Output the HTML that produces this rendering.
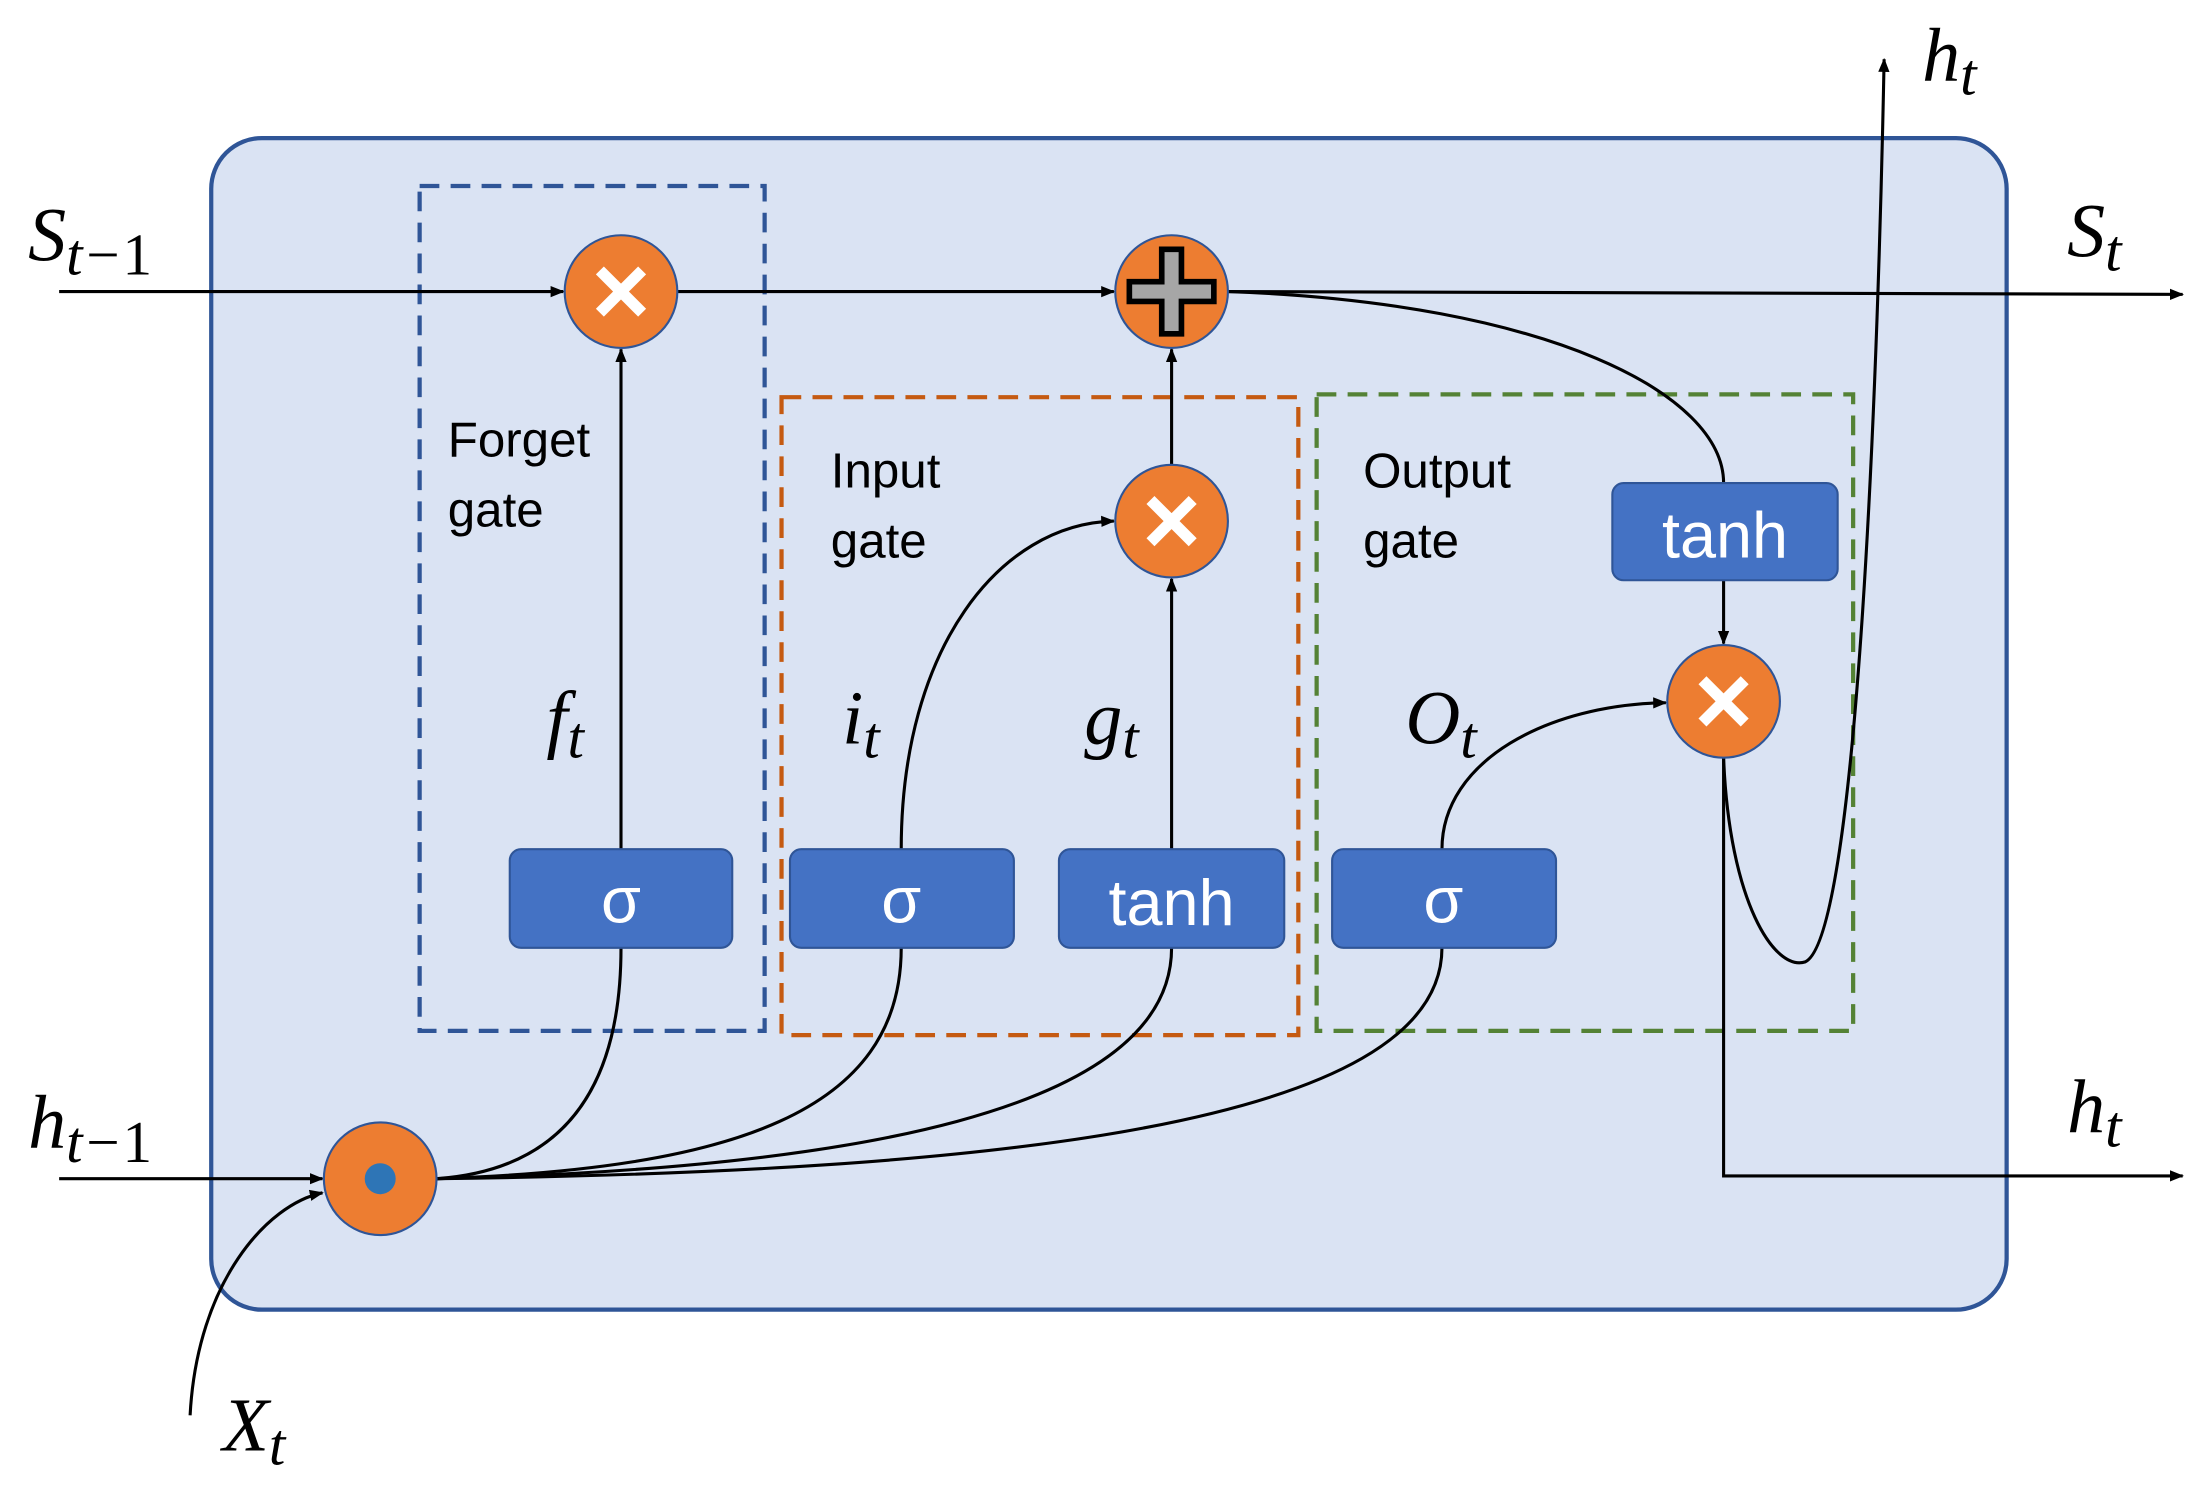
<!DOCTYPE html>
<html><head><meta charset="utf-8"><style>
html,body{margin:0;padding:0;background:#fff;}
svg{display:block}
.m{font-family:"Liberation Serif",serif;font-style:italic;}
.s{font-family:"Liberation Sans","DejaVu Sans",sans-serif;}
</style></head><body>
<svg width="2208" height="1490" viewBox="0 0 1568 1058" xmlns="http://www.w3.org/2000/svg">
<defs>
<marker id="a" markerWidth="10" markerHeight="10" refX="9" refY="5" orient="auto" markerUnits="userSpaceOnUse">
<path d="M0,1 L10,5 L0,9 z" fill="#000"/></marker>
</defs>
<rect x="150" y="98" width="1275" height="832" rx="36" fill="#dae3f3" stroke="#2f5597" stroke-width="3"/>
<rect x="298" y="132" width="245" height="600" fill="none" stroke="#2f5597" stroke-width="3" stroke-dasharray="14,8"/>
<rect x="555" y="282" width="367" height="453" fill="none" stroke="#c55a11" stroke-width="3" stroke-dasharray="14,8"/>
<rect x="935" y="280" width="381" height="452" fill="none" stroke="#548235" stroke-width="3" stroke-dasharray="14,8"/>

<g fill="none" stroke="#000" stroke-width="2.2">
<line x1="42" y1="207" x2="400" y2="207" marker-end="url(#a)"/>
<line x1="481" y1="207" x2="791" y2="207" marker-end="url(#a)"/>
<line x1="872" y1="207" x2="1550" y2="209" marker-end="url(#a)"/>
<path d="M872,207 C1100,215 1224,280 1224,343"/>
<line x1="1224" y1="412" x2="1224" y2="457" marker-end="url(#a)"/>
<line x1="42" y1="837" x2="229" y2="837" marker-end="url(#a)"/>
<path d="M135,1005 C140,910 190,855 229,847" marker-end="url(#a)"/>
<path d="M310,837 C410,830 441,760 441,673"/>
<path d="M310,837 C520,830 640,790 640,673"/>
<path d="M310,837 C600,830 832,790 832,673"/>
<path d="M310,837 C700,832 1024,800 1024,673"/>
<line x1="441" y1="603" x2="441" y2="248" marker-end="url(#a)"/>
<path d="M640,603 C640,460 710,372 791,370" marker-end="url(#a)"/>
<line x1="832" y1="603" x2="832" y2="411" marker-end="url(#a)"/>
<line x1="832" y1="330" x2="832" y2="248" marker-end="url(#a)"/>
<path d="M1024,603 C1024,540 1100,500 1183,499" marker-end="url(#a)"/>
<path d="M1224,538 L1224,835 L1550,835" marker-end="url(#a)"/>
<path d="M1224,538 C1228,640 1260,690 1282,683 C1320,665 1334,250 1338,42" marker-end="url(#a)"/>
</g>

<g fill="#ed7d31" stroke="#2f5597" stroke-width="1.5">
<circle cx="441" cy="207" r="40"/>
<circle cx="832" cy="207" r="40"/>
<circle cx="832" cy="370" r="40"/>
<circle cx="1224" cy="498" r="40"/>
<circle cx="270" cy="837" r="40"/>
</g>
<circle cx="270" cy="837" r="11" fill="#2e75b6"/>
<g stroke="#fff" stroke-width="8" stroke-linecap="butt">
<path d="M426,192 L456,222 M456,192 L426,222"/>
<path d="M817,355 L847,385 M847,355 L817,385"/>
<path d="M1209,483 L1239,513 M1239,483 L1209,513"/>
</g>
<path d="M825,177 h14 v23 h23 v14 h-23 v23 h-14 v-23 h-23 v-14 h23 z" fill="#a6a6a6" stroke="#000" stroke-width="4"/>

<g fill="#4472c4" stroke="#2f5597" stroke-width="1.5">
<rect x="362" y="603" width="158" height="70" rx="8"/>
<rect x="561" y="603" width="159" height="70" rx="8"/>
<rect x="752" y="603" width="160" height="70" rx="8"/>
<rect x="946" y="603" width="159" height="70" rx="8"/>
<rect x="1145" y="343" width="160" height="69" rx="8"/>
</g>
<g class="s" fill="#fff" font-size="46" text-anchor="middle">
<text x="441" y="655">σ</text>
<text x="640" y="655">σ</text>
<text x="832" y="657">tanh</text>
<text x="1025" y="655">σ</text>
<text x="1225" y="396">tanh</text>
</g>
<g class="s" fill="#000" font-size="35">
<text x="318" y="324">Forget</text><text x="318" y="374">gate</text>
<text x="590" y="346">Input</text><text x="590" y="396">gate</text>
<text x="968" y="346">Output</text><text x="968" y="396">gate</text>
</g>
<g class="m" fill="#000" font-size="54">
<text x="20" y="185">S<tspan font-size="42" dy="10">t−<tspan font-style="normal">1</tspan></tspan></text>
<text x="20" y="815">h<tspan font-size="42" dy="10">t−<tspan font-style="normal">1</tspan></tspan></text>
<text x="1468" y="182">S<tspan font-size="42" dy="10">t</tspan></text>
<text x="1468" y="804">h<tspan font-size="42" dy="10">t</tspan></text>
<text x="1365" y="57">h<tspan font-size="42" dy="10">t</tspan></text>
<text x="158" y="1030">X<tspan font-size="42" dy="10">t</tspan></text>
<text x="388" y="528">f<tspan font-size="42" dy="10">t</tspan></text>
<text x="598" y="528">i<tspan font-size="42" dy="10">t</tspan></text>
<text x="770" y="528">g<tspan font-size="42" dy="10">t</tspan></text>
<text x="998" y="528">O<tspan font-size="42" dy="10">t</tspan></text>
</g>
</svg>
</body></html>
